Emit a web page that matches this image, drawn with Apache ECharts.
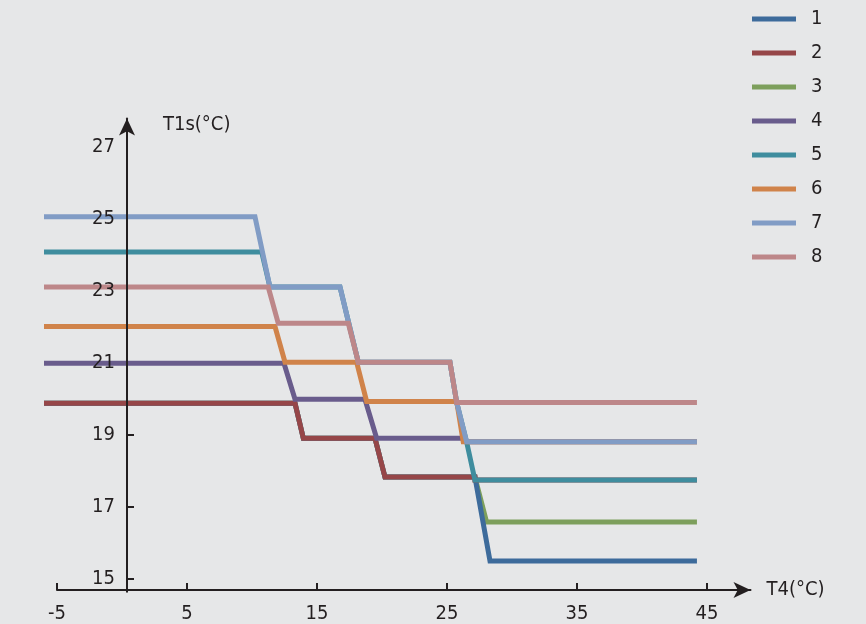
<!DOCTYPE html>
<html>
<head>
<meta charset="utf-8">
<script src="https://cdn.jsdelivr.net/npm/echarts@6/dist/echarts.min.js"></script>
<style>
  html, body { margin: 0; padding: 0; background: #e6e7e8; }
  #chart { width: 866px; height: 624px; }
</style>
</head>
<body>
<div id="chart"></div>
<script>
// Curve labels and colours (legend order 1..8)
const curveNames = ['1', '2', '3', '4', '5', '6', '7', '8'];
const curveColors = ['#3d6b9b', '#964648', '#7d9f5c', '#695c8c', '#3f8d9e', '#d0834a', '#819cc5', '#bd8789'];

// Each curve: [T4 (°C), T1s (°C)] break points of the step curve
const curve1 = [[-6, 19.88], [13.31, 19.88], [13.95, 18.91], [19.46, 18.91], [20.23, 17.83], [27.15, 17.83], [28.31, 15.5], [44.23, 15.5]];
const curve2 = [[-6, 19.88], [13.31, 19.88], [13.95, 18.91], [19.46, 18.91], [20.23, 17.83], [27.15, 17.83], [27.15, 17.75], [44.23, 17.75]];
const curve3 = [[-6, 19.88], [13.31, 19.88], [13.95, 18.91], [19.46, 18.91], [20.23, 17.83], [27.15, 17.83], [28.05, 16.58], [44.23, 16.58]];
const curve4 = [[-6, 20.99], [12.46, 20.99], [13.31, 19.99], [18.69, 19.99], [19.59, 18.91], [26.25, 18.91], [26.51, 18.81], [44.23, 18.81]];
const curve5 = [[-6, 24.08], [10.75, 24.08], [11.38, 23.11], [16.77, 23.11], [17.45, 22.10], [18.18, 21.02], [25.23, 21.02], [25.75, 19.90], [26.51, 18.81], [27.15, 17.75], [44.23, 17.75]];
const curve6 = [[-6, 22.01], [11.77, 22.01], [12.54, 21.02], [18.05, 21.02], [18.82, 19.93], [25.75, 19.93], [26.25, 18.81], [44.23, 18.81]];
const curve7 = [[-6, 25.06], [10.23, 25.06], [11.38, 23.11], [16.77, 23.11], [17.45, 22.10], [18.18, 21.02], [25.23, 21.02], [25.75, 19.90], [26.51, 18.81], [44.23, 18.81]];
const curve8 = [[-6, 23.11], [11.25, 23.11], [12.02, 22.10], [17.41, 22.10], [18.18, 21.02], [25.23, 21.02], [25.75, 19.90], [44.23, 19.90]];

// Axis ticks and labels
const xTickValues = [-5, 5, 15, 25, 35, 45];
const yLabelValues = [15, 17, 19, 21, 23, 25, 27];
const yTickValues = [15, 17, 19];

const curves = [curve1, curve2, curve3, curve4, curve5, curve6, curve7, curve8];
// Drawing order (bottom to top)
const drawOrder = [2, 0, 1, 3, 4, 5, 6, 7];

const INK = '#231f20';
const FONT = '"DejaVu Sans Condensed", Roboto, sans-serif';
const FS = 20;

// Plot area: 13 px per °C horizontally, 36 px per °C vertically
const X_DATA_MIN = -6, X_AXIS_MIN = -5, X_MAX = 48.35;
const Y_MIN = 14.647, Y_MAX = 27.79;
const GRID_TOP = 118.5, GRID_BOTTOM = 32.3, GRID_RIGHT = 115.5;

const chart = echarts.init(document.getElementById('chart'));

const series = drawOrder.map(i => ({
  name: curveNames[i],
  type: 'line',
  xAxisIndex: 0,
  yAxisIndex: 0,
  data: curves[i],
  symbol: 'none',
  color: curveColors[i],
  lineStyle: { width: 5, color: curveColors[i], join: 'miter', cap: 'butt' },
  emphasis: { disabled: true },
  animation: false
}));

chart.setOption({
  backgroundColor: '#e6e7e8',
  animation: false,
  textStyle: { fontFamily: FONT },
  legend: {
    data: curveNames,
    orient: 'vertical',
    left: 752,
    top: 9,
    padding: 0,
    icon: 'rect',
    itemWidth: 44,
    itemHeight: 5,
    itemGap: 14,
    selectedMode: false,
    textStyle: { fontSize: FS, lineHeight: 20, color: INK, fontFamily: FONT, padding: [0, 0, 0, 10] }
  },
  grid: [
    // data area (lines extend a little left of the T4 axis start)
    { left: 44, right: GRID_RIGHT, top: GRID_TOP, bottom: GRID_BOTTOM },
    // T4 axis
    { left: 57, right: GRID_RIGHT, top: GRID_TOP, bottom: GRID_BOTTOM },
    // T1s axis
    { left: 127, right: GRID_RIGHT, top: GRID_TOP, bottom: GRID_BOTTOM }
  ],
  xAxis: [
    { gridIndex: 0, type: 'value', min: X_DATA_MIN, max: X_MAX, show: false },
    {
      gridIndex: 1,
      type: 'value',
      min: X_AXIS_MIN,
      max: X_MAX,
      name: 'T4(°C)',
      nameLocation: 'end',
      nameGap: 16,
      nameTextStyle: { fontSize: FS, color: INK, fontFamily: FONT, verticalAlign: 'middle', padding: [16, 0, 0, 0] },
      axisLine: { show: true, onZero: false, lineStyle: { color: INK, width: 2 }, symbol: ['none', 'arrow'], symbolSize: [12, 17] },
      axisTick: { show: true, inside: true, length: 7, customValues: xTickValues, lineStyle: { color: INK, width: 2 } },
      axisLabel: { customValues: xTickValues, margin: 14, fontSize: FS, color: INK, fontFamily: FONT, showMinLabel: true, showMaxLabel: true },
      splitLine: { show: false }
    },
    { gridIndex: 2, type: 'value', min: 0, max: 1, show: false }
  ],
  yAxis: [
    { gridIndex: 0, type: 'value', min: Y_MIN, max: Y_MAX, show: false },
    { gridIndex: 1, type: 'value', min: Y_MIN, max: Y_MAX, show: false },
    {
      gridIndex: 2,
      type: 'value',
      min: Y_MIN,
      max: Y_MAX,
      z: 10,
      name: 'T1s(°C)',
      nameLocation: 'end',
      nameGap: -6,
      nameTextStyle: { fontSize: FS, color: INK, fontFamily: FONT, align: 'left', verticalAlign: 'middle', padding: [0, 0, 0, 36] },
      axisLine: { show: true, onZero: false, lineStyle: { color: INK, width: 2 }, symbol: ['none', 'arrow'], symbolSize: [12, 17] },
      axisTick: { show: true, inside: true, length: 7, customValues: yTickValues, lineStyle: { color: INK, width: 2 } },
      axisLabel: { customValues: yLabelValues, margin: 12, fontSize: FS, color: INK, fontFamily: FONT, showMinLabel: true, showMaxLabel: true },
      splitLine: { show: false }
    }
  ],
  series: series
});
</script>
</body>
</html>
